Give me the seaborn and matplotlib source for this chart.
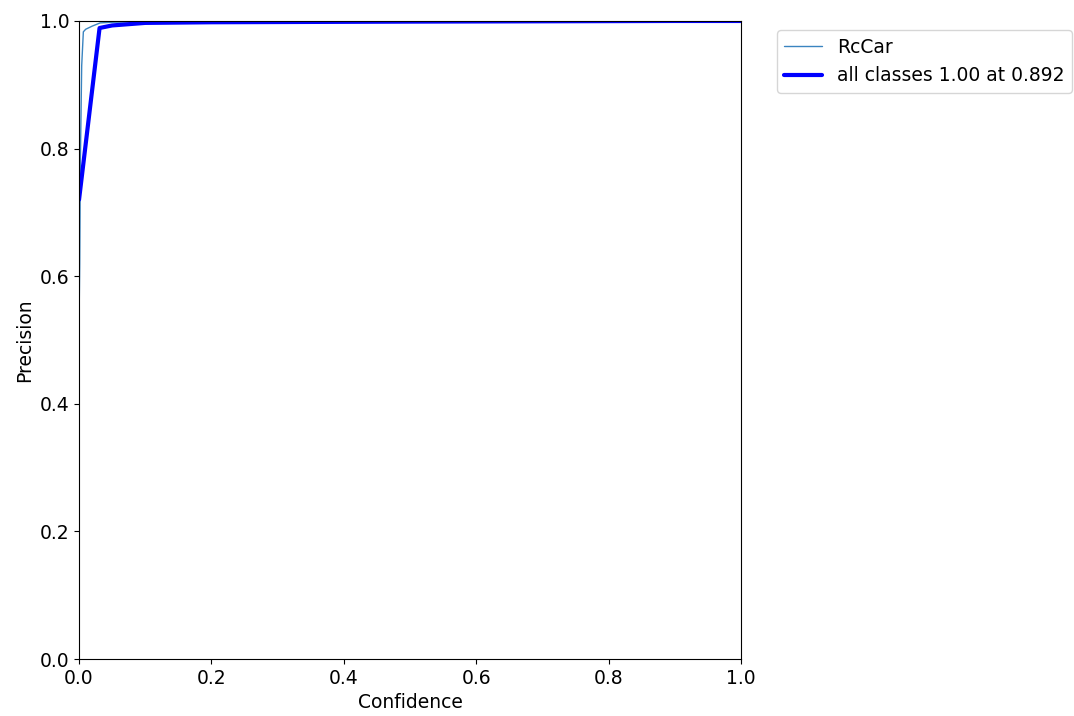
import numpy as np
import pandas as pd
import matplotlib
matplotlib.use("Agg")
import matplotlib.pyplot as plt
import seaborn as sns

# Precision-confidence curve values
rccar_conf = [0.0, 0.001, 0.002, 0.004, 0.0065, 0.01, 0.02, 0.032, 0.05, 0.1, 0.3, 0.5, 0.7, 0.9, 1.0]
rccar_prec = [0.53, 0.62, 0.78, 0.93, 0.983, 0.987, 0.992, 0.997, 0.998, 0.999, 0.999, 1.0, 1.0, 1.0, 1.0]

all_conf = [0.0, 0.031, 0.05, 0.1, 0.2, 0.5, 0.9, 1.0]
all_prec = [0.72, 0.989, 0.993, 0.997, 0.998, 0.999, 1.0, 1.0]
all_label = "all classes 1.00 at 0.892"

FS = 13.5

sns.set_style("ticks", {"text.color": "black", "axes.labelcolor": "black",
                        "xtick.color": "black", "ytick.color": "black",
                        "axes.edgecolor": "black"})
plt.rcParams["font.family"] = ["DejaVu Sans"]

fig, ax = plt.subplots(figsize=(10.74, 7.16), dpi=100)
fig.subplots_adjust(left=0.0736, right=0.69, top=0.9707, bottom=0.0796)

df_r = pd.DataFrame({"conf": rccar_conf, "prec": rccar_prec})
df_a = pd.DataFrame({"conf": all_conf, "prec": all_prec})

sns.lineplot(data=df_r, x="conf", y="prec", ax=ax, estimator=None, sort=False,
             linewidth=1, color="#3a84c0", label="RcCar")
sns.lineplot(data=df_a, x="conf", y="prec", ax=ax, estimator=None, sort=False,
             linewidth=3, color="blue", label=all_label)

ax.set_xlim(0, 1)
ax.set_ylim(0, 1)
ax.set_xlabel("Confidence", fontsize=FS)
ax.set_ylabel("Precision", fontsize=FS)
ax.tick_params(labelsize=FS, colors="black")
for s in ax.spines.values():
    s.set_visible(True)
    s.set_color("black")
ax.legend(bbox_to_anchor=(1.04, 1), loc="upper left", fontsize=FS)

fig.savefig("out.png", dpi=100)
